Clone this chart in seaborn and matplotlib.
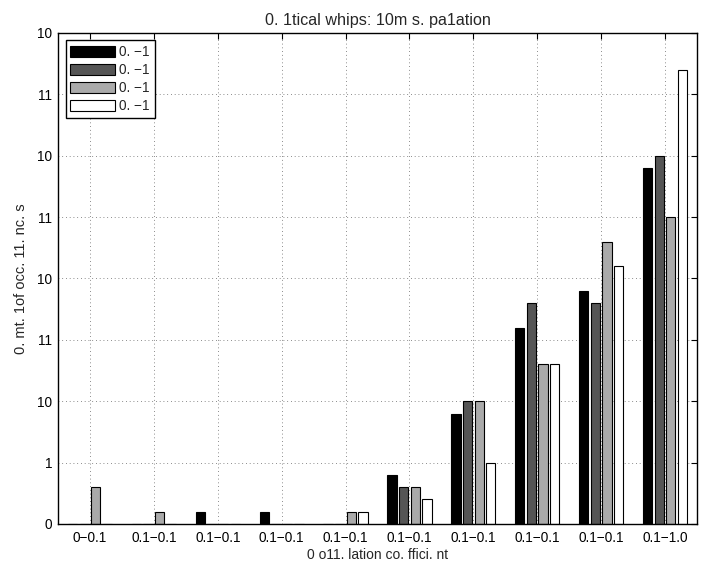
import matplotlib
matplotlib.use("Agg")
import matplotlib.pyplot as plt
import pandas as pd
import seaborn as sns

# x categories (labels repeat, so bins are keyed by position)
bin_labels = ["0\u22120.1", "0.1\u22120.1", "0.1\u22120.1", "0.1\u22120.1", "0.1\u22120.1",
              "0.1\u22120.1", "0.1\u22120.1", "0.1\u22120.1", "0.1\u22120.1", "0.1\u22121.0"]
series_keys = ["s1", "s2", "s3", "s4"]
series_labels = ["0. \u22121", "0. \u22121", "0. \u22121", "0. \u22121"]

# counts per bin
black_counts = [0, 0, 1, 1, 0, 4, 9, 16, 19, 29]
dark_counts = [0, 0, 0, 0, 0, 3, 10, 18, 18, 30]
gray_counts = [3, 1, 0, 0, 1, 3, 10, 13, 23, 25]
white_counts = [0, 0, 0, 0, 1, 2, 5, 13, 21, 37]

ytick_vals = [0, 5, 10, 15, 20, 25, 30, 35, 40]
ytick_labels = ["0", "1", "10", "11", "10", "11", "10", "11", "10"]

colors = ["#000000", "#555555", "#aaaaaa", "#ffffff"]

rows = []
for key, vals in zip(series_keys, [black_counts, dark_counts, gray_counts, white_counts]):
    for i, v in enumerate(vals):
        rows.append({"bin": i, "series": key, "count": v})
df = pd.DataFrame(rows)

sns.set_theme(style="white")
plt.rcParams["font.family"] = ["Liberation Sans", "DejaVu Sans"]
fs = 9.8

fig = plt.figure(figsize=(7.11, 5.63), dpi=100)
ax = fig.add_axes([0.0816, 0.0693, 0.8987, 0.8721])
sns.barplot(data=df, x="bin", y="count", hue="series", hue_order=series_keys,
            palette=colors, saturation=1, width=0.727, gap=0.2,
            edgecolor="black", linewidth=0.8, errorbar=None, ax=ax)

ax.set_xlim(-0.5, 9.5)
ax.set_ylim(0, 40)
ax.set_xticks(range(len(bin_labels)))
ax.set_xticklabels(bin_labels)
ax.set_yticks(ytick_vals)
ax.set_yticklabels(ytick_labels)

ax.set_axisbelow(True)
ax.grid(True, linestyle=(0, (1, 3.5)), color="0.4", linewidth=0.6)
for sp in ax.spines.values():
    sp.set_color("black")
    sp.set_linewidth(1.0)
ax.tick_params(direction="in", top=True, right=True, length=4, width=0.8,
               labelsize=fs, colors="black")
ax.tick_params(axis="x", pad=5)
ax.tick_params(axis="y", pad=4)

ax.set_title("0. 1tical whips: 10m s. pa1ation", fontsize=11.6, pad=6)
ax.set_xlabel("0 o11. lation co. ffici. nt", fontsize=10, labelpad=2)
ax.set_ylabel("0. mt. 1of occ. 11. nc. s", fontsize=10.5, labelpad=7)

handles, _ = ax.get_legend_handles_labels()
leg = ax.legend(handles, series_labels, loc="upper left", fontsize=fs,
                fancybox=False, framealpha=1, edgecolor="black",
                handlelength=3.3, handleheight=0.9, labelspacing=0.3,
                handletextpad=0.3, borderpad=0.35, borderaxespad=0.55)
leg.get_frame().set_linewidth(1.0)

fig.savefig("out.png", dpi=100)
